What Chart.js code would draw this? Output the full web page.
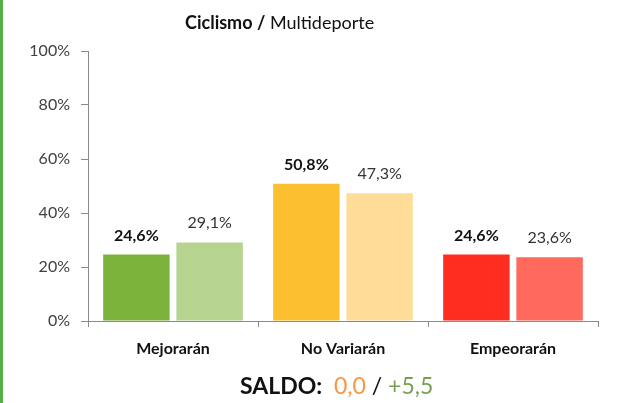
<!DOCTYPE html>
<html>
<head>
<meta charset="utf-8">
<script src="https://cdn.jsdelivr.net/npm/chart.js@4/dist/chart.umd.min.js"></script>
<style>
  html, body { margin: 0; padding: 0; background: #fff; }
  #wrap { position: relative; width: 628px; height: 403px; overflow: hidden; font-family: Lato, "Open Sans", sans-serif; }
  #bar { position: absolute; left: 0; top: 0; width: 3px; height: 403px; background: #58ad44; }
  #title { position: absolute; left: 185px; top: 11px; font-size: 18px; color: #111; white-space: nowrap; }
  #title b { font-weight: 700; }
  #saldo { position: absolute; left: 240px; top: 371px; font-size: 23px; color: #111; white-space: nowrap; }
  #saldo .o { color: #f79646; }
  #saldo .g { color: #77a050; }
  canvas { position: absolute; left: 0; top: 0; }
</style>
</head>
<body>
<div id="wrap">
  <canvas id="c" width="628" height="403"></canvas>
  <div id="bar"></div>
  <div id="title"><b>Ciclismo /</b> Multideporte</div>
  <div id="saldo"><b>SALDO:</b>&nbsp; <span class="o">0,0</span> / <span class="g">+5,5</span></div>
</div>
<script>
const categories = ["Mejorarán", "No Variarán", "Empeorarán"];
const ciclismo = [24.6, 50.8, 24.6];
const multideporte = [29.1, 47.3, 23.6];
const yTicks = [0, 20, 40, 60, 80, 100];
const ciclismoColors = ["#7cb33b", "#fcbf2f", "#ff2d1f"];
const multideporteColors = ["#b6d48f", "#ffdd98", "#ff6a5d"];

const fmt = v => v.toFixed(1).replace('.', ',') + '%';

const labelPlugin = {
  id: 'barLabels',
  afterDatasetsDraw(chart) {
    const ctx = chart.ctx;
    ctx.save();
    ctx.textAlign = 'center';
    ctx.textBaseline = 'alphabetic';
    chart.data.datasets.forEach((ds, di) => {
      const meta = chart.getDatasetMeta(di);
      ctx.font = (di === 0 ? '700 ' : '400 ') + '16px Lato, "Open Sans", sans-serif';
      ctx.fillStyle = di === 0 ? '#111' : '#333';
      meta.data.forEach((el, i) => {
        ctx.fillText(fmt(ds.data[i]), el.x, el.y - 14);
      });
    });
    ctx.restore();
  }
};

new Chart(document.getElementById('c'), {
  type: 'bar',
  data: {
    labels: categories,
    datasets: [
      { label: 'Ciclismo', data: ciclismo, backgroundColor: ciclismoColors },
      { label: 'Multideporte', data: multideporte, backgroundColor: multideporteColors }
    ]
  },
  options: {
    responsive: false,
    animation: false,
    devicePixelRatio: 1,
    categoryPercentage: 0.861,
    barPercentage: 0.908,
    layout: { padding: { left: 10, right: 30, top: 51, bottom: 0 } },
    plugins: { legend: { display: false }, tooltip: { enabled: false }, title: { display: false } },
    scales: {
      x: {
        grid: { display: true, drawOnChartArea: false, drawTicks: true, tickLength: 6, color: '#8a8a8a', offset: true },
        border: { color: '#8a8a8a', width: 1 },
        ticks: { color: '#111', font: { family: 'Lato, "Open Sans", sans-serif', size: 16, weight: '700' }, padding: 12 },
        afterFit(s) { s.height = 82; }
      },
      y: {
        min: 0, max: 100,
        afterBuildTicks(s) { s.ticks = yTicks.map(v => ({ value: v })); },
        grid: { display: true, drawOnChartArea: false, drawTicks: true, tickLength: 7, color: '#8a8a8a' },
        border: { color: '#8a8a8a', width: 1 },
        ticks: { color: '#404040', font: { family: 'Lato, "Open Sans", sans-serif', size: 16 }, padding: 11, callback: v => v + '%' },
        afterFit(s) { s.width = 78; }
      }
    }
  },
  plugins: [labelPlugin]
});
</script>
</body>
</html>
